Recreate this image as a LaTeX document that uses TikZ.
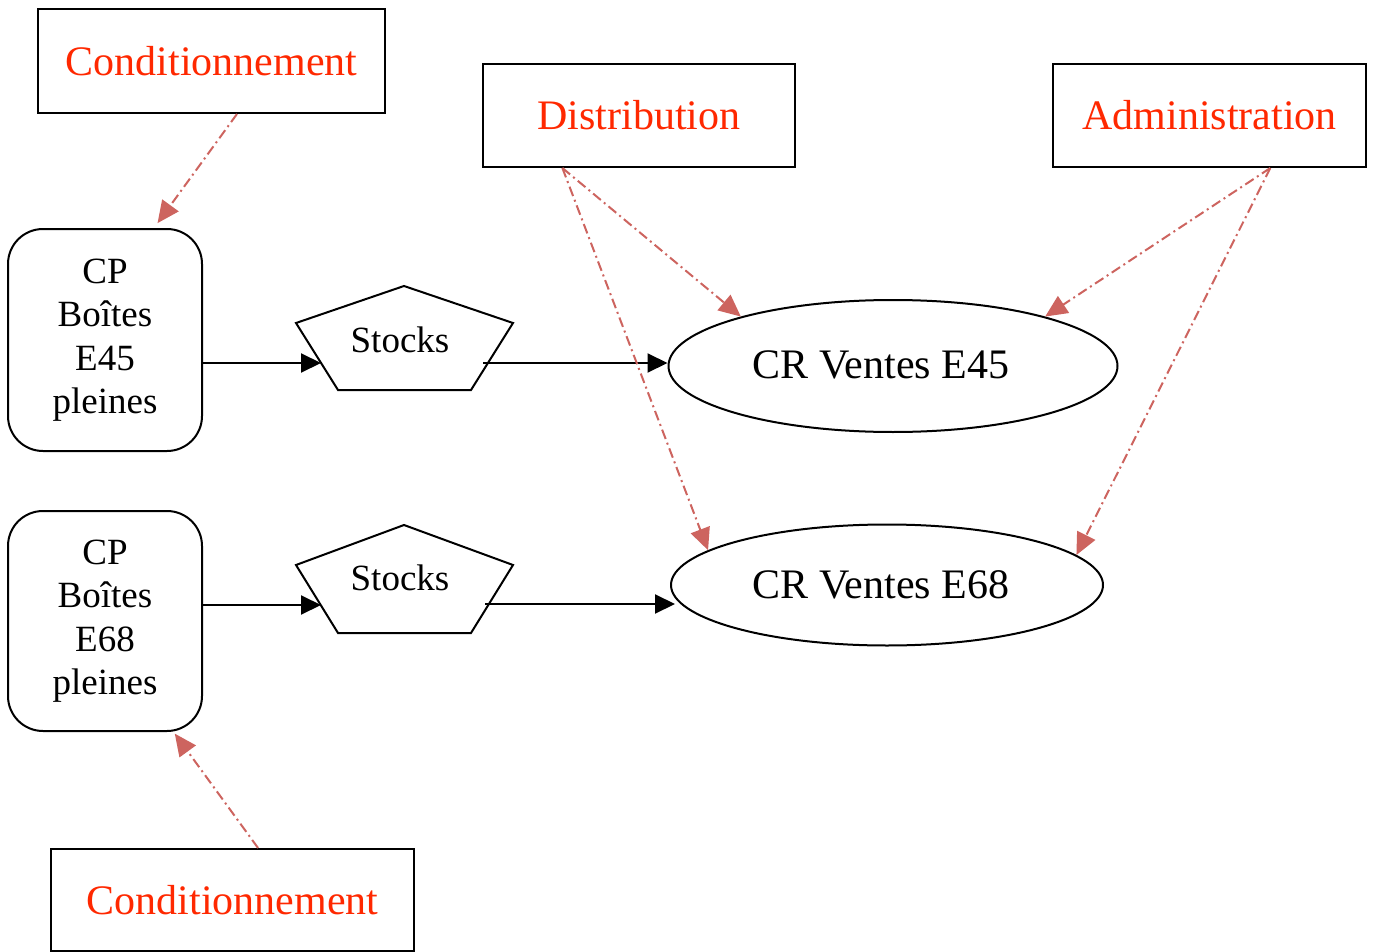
\documentclass[tikz,border=0pt]{standalone}
\usepackage{fontspec}
\setmainfont{Liberation Serif}
\usepackage{xcolor}
\usetikzlibrary{calc,shapes.geometric,arrows.meta}

\definecolor{labelred}{RGB}{255,40,0}
\definecolor{linkred}{RGB}{205,100,95}

\tikzset{
  unitbox/.style={draw,line width=2pt,inner sep=0pt,text=labelred,
    font=\fontsize{42}{48}\selectfont},
  cpbox/.style={draw,line width=2pt,rounded corners=35pt,inner sep=0pt,
    minimum width=194pt,align=center,font=\fontsize{37}{43.5}\selectfont},
  crnode/.style={draw,ellipse,line width=2pt,inner sep=0pt,
    font=\fontsize{42}{48}\selectfont},
  flow/.style={line width=2pt,-{Triangle[length=20pt,width=19pt]}},
  link/.style={linkred,line width=2pt,dash pattern=on 10pt off 4pt on 2pt off 4pt,
    -{Triangle[length=22pt,width=20pt]}},
}

\begin{document}
\begin{tikzpicture}[x=1pt,y=-1pt]
  \useasboundingbox (0,0) rectangle (1373,952);

  % centres de couts
  \node[unitbox,minimum width=347pt,minimum height=104pt] (condA) at (211.5,61) {\raisebox{-2pt}{Conditionnement}};
  \node[unitbox,minimum width=312pt,minimum height=103pt] (dist) at (639,115.5) {\raisebox{-2pt}{Distribution}};
  \node[unitbox,minimum width=313pt,minimum height=103pt] (adm) at (1209.5,115.5) {\raisebox{-2pt}{Administration}};
  \node[unitbox,minimum width=363pt,minimum height=102pt] (condB) at (232.5,900) {\raisebox{-2pt}{Conditionnement}};

  \node[cpbox,minimum height=222pt] (cp45) at (105,340) {CP\\Boîtes\\E45\\pleines};
  \node[cpbox,minimum height=220pt] (cp68) at (105,621) {CP\\Boîtes\\E68\\pleines};

  % stocks
  \draw[line width=2pt] (404,286) -- (513,323) -- (471,390) -- (338,390) -- (296,323) -- cycle;
  \draw[line width=2pt] (404,525) -- (513,565) -- (471,633) -- (338,633) -- (296,565) -- cycle;
  \node[font=\fontsize{37}{43.5}\selectfont] (stk45) at (400,340) {Stocks};
  \node[font=\fontsize{37}{43.5}\selectfont] (stk68) at (400,578) {Stocks};
  \coordinate (stk45in) at (321,363);
  \coordinate (stk45out) at (483,363);
  \coordinate (stk68in) at (321,605);
  \coordinate (stk68out) at (485,604);

  \node[crnode,minimum width=449pt,minimum height=132pt] (cr45) at (893,366) {\raisebox{3pt}{CR Ventes E45}\hspace*{24pt}};
  \node[crnode,minimum width=432pt,minimum height=121pt] (cr68) at (887,585) {CR Ventes E68\hspace*{12pt}};

  % flux
  \draw[flow] (cp45.east |- stk45in) -- (stk45in);
  \draw[flow] (stk45out) -- (cr45.west |- stk45out);
  \draw[flow] (cp68.east |- stk68in) -- (stk68in);
  \draw[flow] (stk68out) -- ($(cr68.west |- stk68out)+(5,0)$);

  % repartition
  \draw[link,shorten >=6pt] ($(condA.south west)!.573!(condA.south east)$) -- ($(cp45.north west)!.75!(cp45.north east)$);
  \draw[link,shorten >=2pt] ($(condB.north west)!.57!(condB.north east)$) -- ($(cp68.south west)!.85!(cp68.south east)$);
  \draw[link] ($(dist.south west)!.256!(dist.south east)$) -- (cr45.162);
  \draw[link] ($(dist.south west)!.256!(dist.south east)$) -- (cr68.169);
  \draw[link] ($(adm.south west)!.693!(adm.south east)$) -- (cr45.18);
  \draw[link] ($(adm.south west)!.693!(adm.south east)$) -- (cr68.9);
\end{tikzpicture}
\end{document}
